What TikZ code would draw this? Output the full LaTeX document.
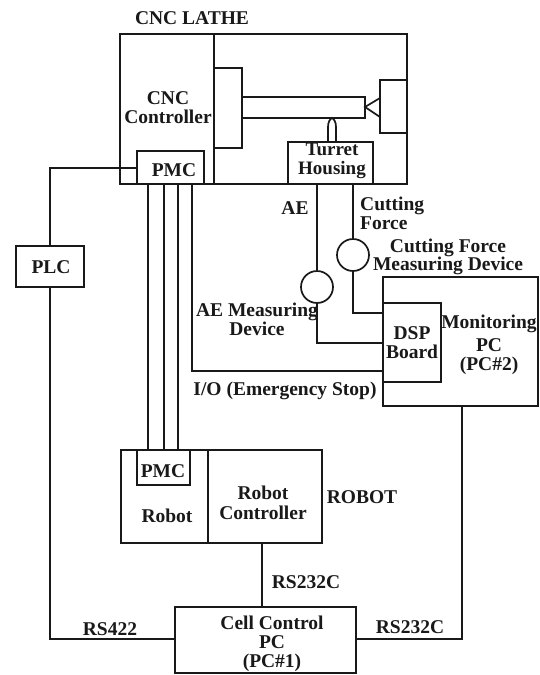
\documentclass[tikz,border=0pt]{standalone}
\usepackage{fontspec}
\setmainfont{Liberation Serif}
\tikzset{
  x=1pt,y=-1pt,
  ln/.style={line width=1.7pt,black!90,line join=miter},
  box/.style={ln,draw,rectangle,inner sep=0pt,outer sep=0pt},
  dev/.style={ln,draw,circle,inner sep=0pt,outer sep=0pt,minimum size=32pt},
  lbl/.style={inner sep=0pt,align=center,text=black!90,font=\bfseries\fontsize{19.5}{19}\selectfont},
}
\newcommand{\boxat}[5]{\node[box,minimum width={(#4-#2)*1pt},minimum height={(#5-#3)*1pt}] (#1) at ({(#2+#4)/2},{(#3+#5)/2}) {};}
\begin{document}
\begin{tikzpicture}
\useasboundingbox (0,0) rectangle (540,675);
\fill[white] (0,0) rectangle (540,675);
% boxes
\boxat{lathe}{120}{34}{407}{184}
\boxat{chuck}{214}{68}{242}{148}
\boxat{spindle}{242}{97}{365}{118}
\boxat{tail}{380}{80}{407}{133}
\boxat{turret}{288}{142}{373}{184}
\boxat{pmca}{137}{151}{204}{184}
\boxat{plc}{16}{246}{84}{287}
\boxat{mon}{383}{277}{538}{406}
\boxat{dsp}{383}{303}{441}{382}
\boxat{robot}{121}{450}{322}{543}
\boxat{pmcb}{137}{450}{190}{485}
\boxat{cell}{175}{607}{356}{673}
\node[dev] (ae) at (317,287) {};
\node[dev] (cf) at (353,255) {};
% named points
\coordinate (divT) at (214,34); \coordinate (divB) at (214,184);
\coordinate (rdT) at (208,450); \coordinate (rdB) at (208,543);
\coordinate (apex) at (365,107); \coordinate (tailA) at (380,98); \coordinate (tailB) at (380,117);
\coordinate (postA) at (328,142); \coordinate (postB) at (336,142); \coordinate (postC) at (328,127); \coordinate (postD) at (336,127); \coordinate (postT) at (332,118);
\coordinate (aT) at (148,184); \coordinate (bT) at (164,184); \coordinate (cT) at (178,184); \coordinate (dT) at (192,184);
\coordinate (aB) at (148,450); \coordinate (bB) at (164,450); \coordinate (cB) at (178,450);
\coordinate (ioT) at (317,184); \coordinate (cfT) at (353,184);
\coordinate (rc) at (262,543); \coordinate (rcb) at (262,607);
\coordinate (cellL) at (175,639); \coordinate (cellR) at (356,639);
\coordinate (monB) at (462,406);
\coordinate (aeIn) at (383,343); \coordinate (cfIn) at (383,313); \coordinate (ioIn) at (383,371);
\coordinate (pmcL) at (137,168);
% inner lines
\draw[ln] (divT) -- (divB);
\draw[ln] (rdT) -- (rdB);
\draw[ln] (tailA) -- (apex) -- (tailB);
\draw[ln] (postA) -- (postC) .. controls (328,122) and (330,119) .. (postT) .. controls (334,119) and (336,122) .. (postD) -- (postB);
% connectors
\draw[ln] (pmcL) -| (plc.north);
\draw[ln] (plc.south) |- (cellL);
\draw[ln] (aT) -- (aB);
\draw[ln] (bT) -- (bB);
\draw[ln] (cT) -- (cB);
\draw[ln] (dT) |- (ioIn);
\draw[ln] (ioT) -- (ae.north);
\draw[ln] (ae.south) |- (aeIn);
\draw[ln] (cfT) -- (cf.north);
\draw[ln] (cf.south) |- (cfIn);
\draw[ln] (rc) -- (rcb);
\draw[ln] (monB) |- (cellR);
% labels
\node[lbl] (t1) at (192,18) {CNC LATHE};
\node[lbl] (t2) at (168,107.5) {CNC\\Controller};
\node[lbl] (t3) at (174,170) {PMC};
\node[lbl,font=\bfseries\fontsize{19}{18.5}\selectfont] (t4) at (332,161) {Turret\\Housing};
\node[lbl] (t5) at (295,208) {AE};
\node[lbl,anchor=west,align=left] (t6) at (360,213) {Cutting\\Force};
\node[lbl] (t7) at (448,257) {Cutting Force\\[-1pt]Measuring Device};
\node[lbl] (t8) at (257,319) {AE Measuring\\Device};
\node[lbl] (t9) at (412,342.5) {DSP\\Board};
\node[lbl] (t10) at (489,345) {Monitoring\\[4pt]PC\\(PC\#2)};
\node[lbl] (t11) at (285,391) {I/O (Emergency Stop)};
\node[lbl] (t12) at (51,267) {PLC};
\node[lbl] (t13) at (163,471) {PMC};
\node[lbl] (t14) at (167,516) {Robot};
\node[lbl] (t15) at (263,503) {Robot\\[1pt]Controller};
\node[lbl] (t16) at (362,497) {ROBOT};
\node[lbl] (t17) at (306,582) {RS232C};
\node[lbl] (t18) at (110,629) {RS422};
\node[lbl] (t19) at (410,627) {RS232C};
\node[lbl] (t20) at (272,644) {Cell Control\\PC\\(PC\#1)};
\end{tikzpicture}
\end{document}
